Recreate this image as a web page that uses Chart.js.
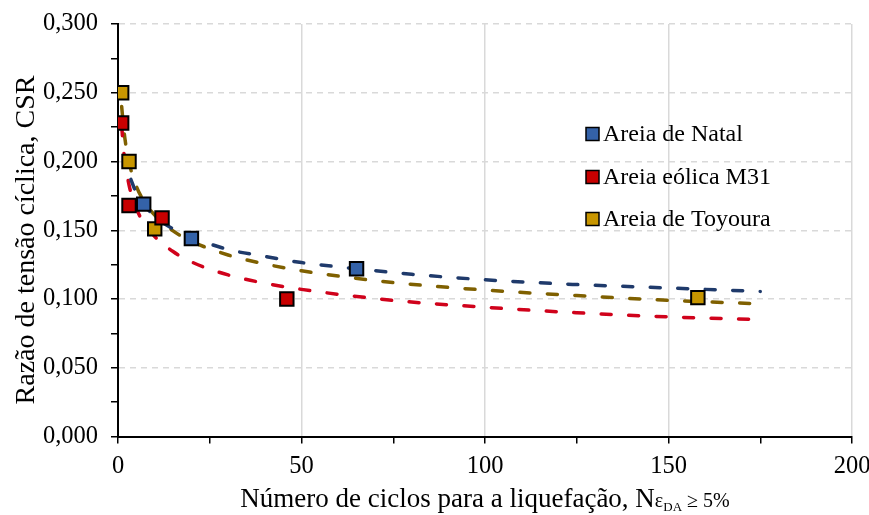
<!DOCTYPE html>
<html>
<head>
<meta charset="utf-8">
<script src="https://cdn.jsdelivr.net/npm/chart.js@4/dist/chart.umd.min.js"></script>
<style>
  html, body { margin: 0; padding: 0; background: #fff; }
  #wrap { width: 869px; height: 515px; }
</style>
</head>
<body>
<div id="wrap"><canvas id="chart" width="869" height="515"></canvas></div>
<script>
// measured points
const natalN = [7, 20, 65];
const natalCSR = [0.169, 0.144, 0.122];
const eolicaN = [1, 3, 12, 46];
const eolicaCSR = [0.228, 0.168, 0.159, 0.100];
const toyouraN = [1, 3, 10, 158];
const toyouraCSR = [0.250, 0.200, 0.151, 0.101];

// trend curves
const natalTrendN = [3.5, 5, 7, 10, 15, 20, 30, 40, 50, 65, 80, 100, 125, 150, 175];
const natalTrendCSR = [0.187, 0.177, 0.169, 0.160, 0.151, 0.145, 0.136, 0.131, 0.1265, 0.122, 0.118, 0.114, 0.1105, 0.108, 0.1055];
const eolicaTrendN = [1, 1.5, 2, 3, 4, 6, 8, 10, 15, 20, 30, 40, 50, 75, 100, 125, 150, 175];
const eolicaTrendCSR = [0.226, 0.209, 0.198, 0.183, 0.173, 0.160, 0.152, 0.1455, 0.1345, 0.127, 0.1175, 0.1115, 0.107, 0.099, 0.094, 0.090, 0.087, 0.085];
const toyouraTrendN = [1, 1.5, 2, 3, 5, 7, 10, 15, 20, 30, 40, 50, 75, 100, 125, 150, 175];
const toyouraTrendCSR = [0.240, 0.2255, 0.2145, 0.1995, 0.182, 0.1715, 0.161, 0.1495, 0.142, 0.132, 0.1255, 0.1205, 0.112, 0.1065, 0.1025, 0.099, 0.0965];

const seriesNames = ['Areia de Natal', 'Areia eólica M31', 'Areia de Toyoura'];
const markerColors = ['#3462a8', '#c80000', '#c89600'];
const lineColors = ['#1f3a6b', '#d0021b', '#7f6000'];

const FONT = "'Liberation Serif', 'Times New Roman', serif";

const toXY = (xs, ys) => xs.map((x, i) => ({ x, y: ys[i] }));

function markerSet(i, xs, ys) {
    return {
        label: seriesNames[i],
        data: toXY(xs, ys),
        pointStyle: 'rect',
        pointRadius: 9.5,
        pointHoverRadius: 9.5,
        pointBackgroundColor: markerColors[i],
        pointBorderColor: '#000',
        pointBorderWidth: 2,
        showLine: false,
        order: 0
    };
}

function trendSet(i, xs, ys) {
    return {
        label: seriesNames[i] + ' trend',
        data: toXY(xs, ys),
        showLine: true,
        pointRadius: 0,
        borderColor: lineColors[i],
        borderWidth: 3.5,
        borderDash: [10, 17.5],
        borderCapStyle: 'round',
        cubicInterpolationMode: 'monotone',
        order: 1
    };
}

const legendPlugin = {
    id: 'insideLegend',
    afterDraw(chart) {
        const ctx = chart.ctx;
        const rows = [134, 177, 219];
        ctx.save();
        ctx.font = '24px ' + FONT;
        ctx.textBaseline = 'middle';
        ctx.textAlign = 'left';
        seriesNames.forEach((name, i) => {
            ctx.fillStyle = markerColors[i];
            ctx.fillRect(586, rows[i] - 6.5, 13, 13);
            ctx.strokeStyle = '#000';
            ctx.lineWidth = 1.5;
            ctx.strokeRect(586, rows[i] - 6.5, 13, 13);
            ctx.fillStyle = '#000';
            ctx.fillText(name, 603, rows[i] + 1);
        });
        ctx.restore();
    }
};

const titlesPlugin = {
    id: 'axisTitles',
    afterDraw(chart) {
        const ctx = chart.ctx;
        const area = chart.chartArea;
        ctx.save();
        ctx.fillStyle = '#000';
        ctx.textBaseline = 'alphabetic';
        // x title with subscript
        const parts = [
            { t: 'Número de ciclos para a liquefação, N', f: '27px ' + FONT, dy: 0 },
            { t: 'ε', f: '20px ' + FONT, dy: 0 },
            { t: 'DA', f: '13px ' + FONT, dy: 4 },
            { t: ' ≥ 5%', f: '20px ' + FONT, dy: 0 }
        ];
        let total = 0;
        parts.forEach(p => { ctx.font = p.f; p.w = ctx.measureText(p.t).width; total += p.w; });
        let x = (area.left + area.right) / 2 - total / 2;
        const base = 507;
        ctx.textAlign = 'left';
        parts.forEach(p => { ctx.font = p.f; ctx.fillText(p.t, x, base + p.dy); x += p.w; });
        // y title
        ctx.translate(34, 240);
        ctx.rotate(-Math.PI / 2);
        ctx.textAlign = 'center';
        ctx.font = '28px ' + FONT;
        ctx.fillText('Razão de tensão cíclica, CSR', 0, 0);
        ctx.restore();
    }
};

const isMajorY = v => Math.round(v * 1000) % 50 === 0;
const isMajorX = v => Math.round(v) % 50 === 0;

new Chart(document.getElementById('chart'), {
    type: 'scatter',
    data: {
        datasets: [
            markerSet(0, natalN, natalCSR),
            markerSet(1, eolicaN, eolicaCSR),
            markerSet(2, toyouraN, toyouraCSR),
            trendSet(0, natalTrendN, natalTrendCSR),
            trendSet(1, eolicaTrendN, eolicaTrendCSR),
            trendSet(2, toyouraTrendN, toyouraTrendCSR)
        ]
    },
    options: {
        responsive: false,
        devicePixelRatio: 1,
        animation: false,
        layout: { padding: { top: 24, right: 17, left: 0, bottom: 0 } },
        plugins: {
            legend: { display: false },
            tooltip: { enabled: false }
        },
        scales: {
            x: {
                type: 'linear',
                min: 0,
                max: 200,
                afterFit: s => {
                    s.height = 78.5;
                    s.paddingLeft = 0;
                    s.paddingRight = 0;
                },
                ticks: {
                    stepSize: 25,
                    padding: 8,
                    color: '#000',
                    font: { family: FONT, size: 24.5 },
                    callback: v => isMajorX(v) ? String(v) : ''
                },
                grid: {
                    color: c => (c.tick && isMajorX(c.tick.value) && c.tick.value !== 0) ? '#d9d9d9' : 'rgba(0,0,0,0)',
                    lineWidth: 1.5,
                    tickColor: '#000',
                    tickLength: 7,
                    tickWidth: 1.5
                },
                border: { color: '#000', width: 2 }
            },
            y: {
                min: 0,
                max: 0.3,
                afterFit: s => {
                    s.width = 118;
                    s.paddingTop = 0;
                    s.paddingBottom = 0;
                },
                ticks: {
                    stepSize: 0.025,
                    padding: 13,
                    color: '#000',
                    font: { family: FONT, size: 24.5 },
                    callback: v => isMajorY(v) ? v.toFixed(3).replace('.', ',') : ''
                },
                grid: {
                    color: c => (c.tick && isMajorY(c.tick.value) && c.tick.value !== 0) ? '#d9d9d9' : 'rgba(0,0,0,0)',
                    lineWidth: 1.5,
                    tickColor: '#000',
                    tickLength: 7,
                    tickWidth: 1.5
                },
                border: { color: '#000', width: 2, dash: [6, 5] }
            }
        }
    },
    plugins: [legendPlugin, titlesPlugin]
});
</script>
</body>
</html>
